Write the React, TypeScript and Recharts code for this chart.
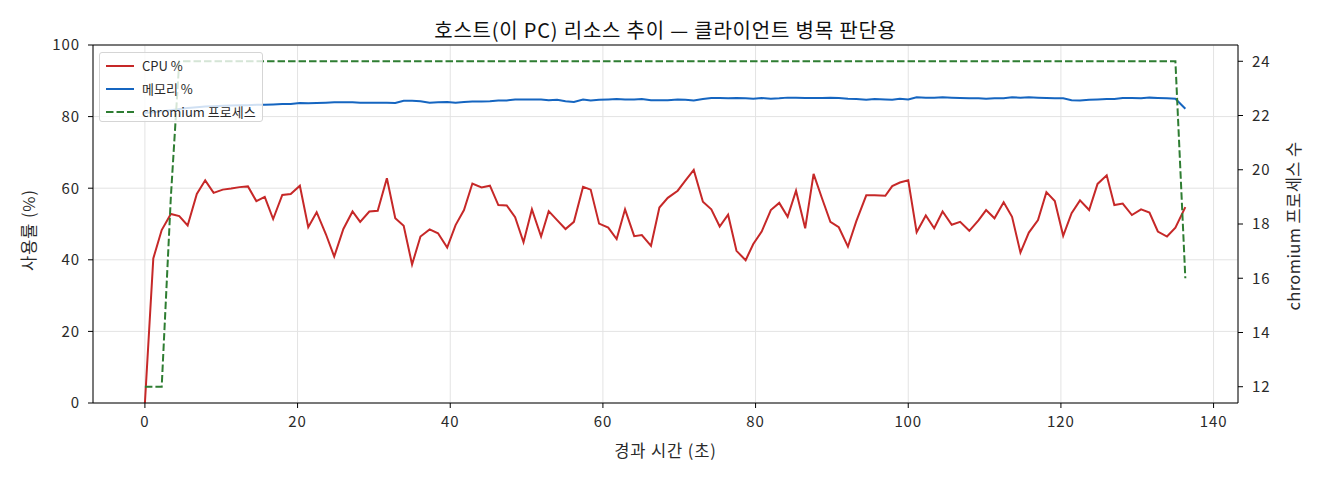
import React from "react";
import {
  LineChart,
  Line,
  XAxis,
  YAxis,
  CartesianGrid,
  ReferenceLine,
} from "recharts";

const FONT = '"Noto Sans CJK KR", "Noto Sans", sans-serif';

// elapsed seconds of each sample
const elapsed = [
  0, 1.1, 2.2, 3.4, 4.5, 5.6, 6.8, 7.9, 9.0, 10.2, 11.3, 12.4, 13.5, 14.6, 15.7,
  16.8, 18.0, 19.1, 20.3, 21.4, 22.5, 23.7, 24.8, 26.0, 27.2, 28.2, 29.4, 30.5,
  31.7, 32.8, 33.9, 35.0, 36.1, 37.3, 38.4, 39.6, 40.7, 41.8, 42.9, 44.1, 45.2,
  46.3, 47.4, 48.5, 49.6, 50.7, 51.9, 52.9, 54.0, 55.1, 56.2, 57.4, 58.4, 59.5,
  60.7, 61.8, 62.9, 64.1, 65.1, 66.3, 67.4, 68.5, 69.8, 70.8, 71.9, 73.1, 74.2,
  75.3, 76.4, 77.5, 78.7, 79.7, 80.8, 82.0, 83.1, 84.2, 85.3, 86.5, 87.6, 88.7,
  89.8, 90.9, 92.1, 93.2, 94.5, 95.6, 97.0, 97.9, 98.9, 100.0, 101.1, 102.3,
  103.4, 104.5, 105.7, 106.8, 108.0, 109.2, 110.2, 111.3, 112.5, 113.6, 114.7,
  115.8, 117.0, 118.1, 119.2, 120.3, 121.4, 122.5, 123.7, 124.8, 126.0, 127.0,
  128.1, 129.3, 130.5, 131.6, 132.7, 133.9, 135.0, 136.3,
];

const cpuPct = [
  0, 40.4, 48.3, 52.8, 52.2, 49.6, 58.4, 62.2, 58.7, 59.6, 59.9, 60.3, 60.5,
  56.4, 57.6, 51.4, 58.1, 58.4, 60.7, 49.1, 53.3, 47.2, 40.9, 48.6, 53.5, 50.6,
  53.5, 53.7, 62.8, 51.6, 49.5, 38.7, 46.5, 48.5, 47.4, 43.4, 49.7, 53.9, 61.3,
  60.2, 60.7, 55.3, 55.2, 51.9, 44.9, 54.1, 46.5, 53.6, 51.1, 48.6, 50.6, 60.4,
  59.6, 50.1, 49.0, 45.8, 54.1, 46.6, 46.9, 43.9, 54.6, 57.3, 59.3, 62.1, 65.1,
  56.2, 54.1, 49.3, 52.6, 42.5, 39.9, 44.4, 47.9, 53.9, 55.9, 52.0, 59.3, 48.8,
  64.0, 57.2, 50.6, 49.1, 43.7, 50.8, 58.0, 58.0, 57.9, 60.6, 61.6, 62.2, 47.7,
  52.4, 48.8, 53.5, 49.8, 50.6, 48.1, 51.0, 53.9, 51.6, 56.1, 52.0, 42.0, 47.6,
  51.1, 58.9, 56.4, 46.7, 53.0, 56.6, 53.9, 61.2, 63.6, 55.3, 55.7, 52.5, 54.1,
  53.2, 47.9, 46.5, 49.0, 54.7,
];

const memPct = [
  81.0, 81.2, 81.5, 81.8, 82.1, 82.4, 82.6, 82.8, 82.9, 83.0, 83.1, 83.2, 83.2,
  83.3, 83.3, 83.4, 83.5, 83.5, 83.8, 83.7, 83.8, 83.9, 84.0, 84.0, 84.0, 83.9,
  83.9, 83.9, 83.9, 83.8, 84.4, 84.4, 84.3, 83.9, 84.0, 84.1, 83.9, 84.1, 84.2,
  84.2, 84.3, 84.5, 84.5, 84.8, 84.8, 84.8, 84.8, 84.6, 84.7, 84.3, 84.1, 84.8,
  84.5, 84.7, 84.8, 84.9, 84.8, 84.8, 84.9, 84.6, 84.6, 84.6, 84.8, 84.7, 84.5,
  84.9, 85.2, 85.2, 85.1, 85.2, 85.1, 85.0, 85.2, 85.0, 85.1, 85.3, 85.3, 85.2,
  85.2, 85.2, 85.3, 85.2, 85.0, 84.9, 84.7, 84.9, 84.8, 84.7, 85.0, 84.8, 85.4,
  85.3, 85.3, 85.4, 85.3, 85.2, 85.1, 85.1, 85.0, 85.1, 85.1, 85.4, 85.3, 85.4,
  85.3, 85.2, 85.1, 85.1, 84.6, 84.5, 84.7, 84.8, 84.9, 84.9, 85.2, 85.2, 85.1,
  85.3, 85.2, 85.1, 85.0, 82.2,
];

const chromiumProcs = [
  12, 12, 12, 19, 24, 24, 24, 24, 24, 24, 24, 24, 24, 24, 24, 24, 24, 24, 24,
  24, 24, 24, 24, 24, 24, 24, 24, 24, 24, 24, 24, 24, 24, 24, 24, 24, 24, 24,
  24, 24, 24, 24, 24, 24, 24, 24, 24, 24, 24, 24, 24, 24, 24, 24, 24, 24, 24,
  24, 24, 24, 24, 24, 24, 24, 24, 24, 24, 24, 24, 24, 24, 24, 24, 24, 24, 24,
  24, 24, 24, 24, 24, 24, 24, 24, 24, 24, 24, 24, 24, 24, 24, 24, 24, 24, 24,
  24, 24, 24, 24, 24, 24, 24, 24, 24, 24, 24, 24, 24, 24, 24, 24, 24, 24, 24,
  24, 24, 24, 24, 24, 24, 24, 16,
];

const xTicks = [0, 20, 40, 60, 80, 100, 120, 140];
const pctTicks = [0, 20, 40, 60, 80, 100];
const procTicks = [12, 14, 16, 18, 20, 22, 24];

const rows = elapsed.map((t, i) => ({
  t,
  cpu: cpuPct[i],
  mem: memPct[i],
  procs: chromiumProcs[i],
}));

const tickStyle = {
  fontSize: 15,
  fill: "#2a2a2a",
  fontFamily: FONT,
  letterSpacing: 0.9,
};

const legendItems = [
  { label: "CPU %", color: "#c62828", dash: undefined },
  { label: "메모리 %", color: "#1565c0", dash: undefined },
  { label: "chromium 프로세스", color: "#2e7d32", dash: "7.5 3" },
];

const Legend = () => (
  <div
    style={{
      position: "absolute",
      left: 99,
      top: 52,
      width: 164,
      height: 70,
      boxSizing: "border-box",
      border: "1px solid #d5d5d5",
      borderRadius: 3,
      background: "rgba(255,255,255,0.8)",
      padding: "1px 0 0 5px",
      fontFamily: FONT,
      fontSize: 13,
      color: "#2a2a2a",
    }}
  >
    {legendItems.map((it) => (
      <div
        key={it.label}
        style={{ display: "flex", alignItems: "center", height: 23 }}
      >
        <svg width={30} height={6} style={{ marginRight: 7 }}>
          <line
            x1={1}
            y1={3}
            x2={29}
            y2={3}
            stroke={it.color}
            strokeWidth={2}
            strokeDasharray={it.dash}
          />
        </svg>
        <span>{it.label}</span>
      </div>
    ))}
  </div>
);

const labelBase = {
  position: "absolute" as const,
  whiteSpace: "nowrap" as const,
  color: "#2a2a2a",
  fontSize: 16.5,
  letterSpacing: 0.9,
};

export default function App() {
  return (
    <div
      style={{
        position: "absolute",
        left: 0,
        top: 0,
        width: 1320,
        height: 480,
        background: "#fff",
        fontFamily: FONT,
      }}
    >
      <LineChart
        width={1320}
        height={480}
        data={rows}
        margin={{ top: 45, right: 0, bottom: 0, left: 0 }}
      >
        <CartesianGrid yAxisId="left" stroke="#e3e3e3" strokeWidth={1} />
        <XAxis
          dataKey="t"
          type="number"
          domain={[-6.8, 143.2]}
          ticks={xTicks}
          allowDataOverflow
          height={77}
          stroke="#000"
          tickSize={5}
          tickMargin={8}
          tick={tickStyle}
        />
        <YAxis
          yAxisId="left"
          domain={[0, 100]}
          ticks={pctTicks}
          width={93}
          stroke="#000"
          tickSize={5}
          tickMargin={8}
          tick={tickStyle}
        />
        <YAxis
          yAxisId="right"
          orientation="right"
          domain={[11.4, 24.6]}
          ticks={procTicks}
          allowDataOverflow
          width={82}
          stroke="#000"
          tickSize={5}
          tickMargin={9}
          tick={tickStyle}
        />
        <ReferenceLine yAxisId="left" y={100} stroke="#000" strokeWidth={1} />
        <Line
          yAxisId="left"
          type="linear"
          dataKey="cpu"
          stroke="#c62828"
          strokeWidth={2}
          dot={false}
          isAnimationActive={false}
        />
        <Line
          yAxisId="left"
          type="linear"
          dataKey="mem"
          stroke="#1565c0"
          strokeWidth={2}
          dot={false}
          isAnimationActive={false}
        />
        <Line
          yAxisId="right"
          type="linear"
          dataKey="procs"
          stroke="#2e7d32"
          strokeWidth={2}
          strokeDasharray="7.5 3"
          dot={false}
          isAnimationActive={false}
        />
      </LineChart>

      <Legend />

      {/* title and axis labels */}
      <div
        style={{
          ...labelBase,
          left: 93,
          width: 1145,
          top: 29,
          transform: "translateY(-50%)",
          textAlign: "center",
          fontSize: 20,
          letterSpacing: 0.8,
          color: "#111",
        }}
      >
        호스트(이 PC) 리소스 추이 — 클라이언트 병목 판단용
      </div>
      <div
        style={{
          ...labelBase,
          left: 93,
          width: 1145,
          top: 450,
          transform: "translateY(-50%)",
          textAlign: "center",
        }}
      >
        경과 시간 (초)
      </div>
      <div
        style={{
          ...labelBase,
          left: 28,
          top: 230,
          transform: "translate(-50%, -50%) rotate(-90deg)",
        }}
      >
        사용률 (%)
      </div>
      <div
        style={{
          ...labelBase,
          left: 1293,
          top: 226,
          transform: "translate(-50%, -50%) rotate(-90deg)",
          letterSpacing: 0.4,
        }}
      >
        chromium 프로세스 수
      </div>
    </div>
  );
}
